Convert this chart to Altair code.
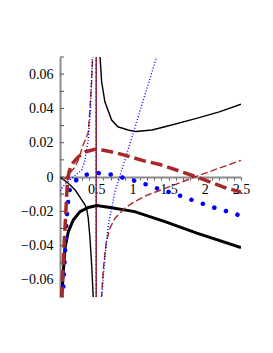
import altair as alt
import pandas as pd

# thin black solid
tb_l_x = [0, 0.11, 0.21, 0.30, 0.345, 0.37, 0.39, 0.414, 0.437, 0.46]
tb_l_y = [0, -0.0035, -0.0076, -0.0134, -0.0163, -0.019, -0.024, -0.0356, -0.051, -0.071]
tb_r_x = [0.552, 0.575, 0.62, 0.713, 0.80, 0.94, 1.05, 1.27, 1.45, 1.885, 2.2, 2.5]
tb_r_y = [0.071, 0.0556, 0.0439, 0.0332, 0.0293, 0.0274, 0.0265, 0.0274, 0.0293, 0.0342, 0.038, 0.0425]

# thick black solid
kb_x = [0.023, 0.046, 0.069, 0.115, 0.183, 0.276, 0.39, 0.51, 0.713, 1.03, 1.45, 1.89, 2.5]
kb_y = [-0.071, -0.0552, -0.0414, -0.0319, -0.0251, -0.0202, -0.0178, -0.0167, -0.0179, -0.0202, -0.026, -0.0327, -0.0412]

# thick red dashed
kr_x = [0.023, 0.05, 0.075, 0.09, 0.105, 0.125, 0.15, 0.18, 0.25, 0.345, 0.48, 0.62, 0.76, 0.94, 1.17, 1.38, 1.89, 2.25, 2.5]
kr_y = [-0.071, -0.045, -0.025, -0.012, -0.002, 0.003, 0.0058, 0.0082, 0.0117, 0.0146, 0.0162, 0.0155, 0.0142, 0.0122, 0.0093, 0.0073, 0.0, -0.0058, -0.0088]

# thin red dashed
tr_l_x = [0.046, 0.1, 0.138, 0.2, 0.253, 0.32, 0.39, 0.414, 0.435, 0.452]
tr_l_y = [-0.002, 0.0005, 0.0023, 0.0055, 0.0099, 0.0187, 0.026, 0.040, 0.055, 0.071]
tr_r_x = [0.572, 0.6, 0.64, 0.69, 0.76, 0.9, 1.03, 1.21, 1.43, 1.86, 2.2, 2.5]
tr_r_y = [-0.071, -0.053, -0.0377, -0.0298, -0.024, -0.018, -0.0144, -0.0105, -0.007, 0.0, 0.0052, 0.0097]

# thin blue dotted
tbl_l_x = [0.0, 0.07, 0.14, 0.21, 0.30, 0.345, 0.39, 0.42, 0.435, 0.448]
tbl_l_y = [-0.008, -0.004, -0.0015, 0.001, 0.004, 0.0099, 0.0216, 0.038, 0.055, 0.071]
tbl_r_x = [0.575, 0.62, 0.667, 0.713, 0.759, 0.804, 0.9, 1.01, 1.13, 1.24, 1.334]
tbl_r_y = [-0.071, -0.047, -0.028, -0.0183, -0.0086, -0.0027, 0.0105, 0.0255, 0.042, 0.057, 0.0702]

# thick blue dotted
kbl_x = [0.037, 0.046, 0.069, 0.092, 0.115, 0.138, 0.18, 0.23, 0.345, 0.48, 0.62, 0.73, 0.87, 0.99, 1.13, 1.26, 1.42, 1.63, 1.89, 2.16, 2.39, 2.5]
kbl_y = [-0.071, -0.064, -0.045, -0.024, -0.013, -0.0064, -0.0035, -0.0017, 0.0012, 0.0023, 0.0022, 0.0012, -0.0004, -0.0017, -0.0033, -0.0056, -0.0076, -0.0105, -0.0144, -0.0183, -0.021, -0.0228]

# vertical line x = 0.5
vx = [0.5, 0.5]
vy = [-0.07, 0.07]

x_ticks = [round(0.1 * i, 1) for i in range(1, 26)]
x_labels = [0.5, 1, 1.5, 2, 2.5]
y_labels = [-0.06, -0.04, -0.02, 0, 0.02, 0.04, 0.06]
y_minor = [round(-0.07 + 0.01 * i, 2) for i in range(15)]


def frame(branches):
    rows = []
    for b, (xs, ys) in enumerate(branches):
        for i, (a, c) in enumerate(zip(xs, ys)):
            rows.append({"x": a, "y": c, "b": b, "o": i})
    return pd.DataFrame(rows)


xs = alt.Scale(domain=[0, 2.5], nice=False)
ys = alt.Scale(domain=[-0.07, 0.07], nice=False)
FONT = "Liberation Serif"

xaxis = alt.Axis(values=x_ticks, labelExpr="indexof([0.5,1,1.5,2,2.5], datum.value) >= 0 ? datum.label : ''",
                 format="~g", offset=-120, domainColor="#8c8c8c", domainWidth=2, tickColor="#555",
                 tickSize=3, tickWidth=1, labelFont=FONT, labelFontSize=14, labelColor="black",
                 labelPadding=2, grid=False, title=None, labelFlush=False, labelOverlap=False)
yaxis = alt.Axis(values=y_labels, format="~g", domainColor="#8c8c8c", domainWidth=2, ticks=False,
                 labelFont=FONT, labelFontSize=14, labelColor="black", labelPadding=7, grid=False,
                 title=None, labelOverlap=False)


def line(df, color, width, dash=None, cap="butt"):
    kw = dict(color=color, strokeWidth=width, clip=True, strokeCap=cap)
    if dash:
        kw["strokeDash"] = dash
    return alt.Chart(df).mark_line(**kw).encode(
        x=alt.X("x:Q", scale=xs, axis=xaxis),
        y=alt.Y("y:Q", scale=ys, axis=yaxis),
        detail="b:N", order="o:Q")


RED = "#A82828"
layers = [
    line(frame([(vx, vy)]), RED, 1.6),
    line(frame([(vx, vy)]), "#2020c0", 1.3, [1, 3]),
    line(frame([(tb_l_x, tb_l_y), (tb_r_x, tb_r_y)]), "black", 1.4),
    line(frame([(kb_x, kb_y)]), "black", 3),
    line(frame([(tr_l_x, tr_l_y), (tr_r_x, tr_r_y)]), RED, 1.4, [7, 3]),
    line(frame([(tbl_l_x, tbl_l_y), (tbl_r_x, tbl_r_y)]), "#0000ff", 1.4, [1, 2]),
    line(frame([(kbl_x, kbl_y)]), "#0000ff", 4.5, [0.1, 12], "round"),
    line(frame([(kr_x, kr_y)]), RED, 3.5, [12, 5]),
    alt.Chart(pd.DataFrame({"y": y_minor})).mark_rule(color="#555", strokeWidth=1).encode(
        y=alt.Y("y:Q", scale=ys, axis=yaxis), x=alt.value(0), x2=alt.value(4)),
]

chart = alt.layer(*layers).properties(
    width=181, height=240,
    autosize=alt.AutoSizeParams(type="none"),
    padding={"left": 52, "top": 49, "right": 20, "bottom": 40},
).configure(
    background="white", font=FONT,
    view=alt.ViewConfig(stroke="transparent", strokeWidth=0),
    axis=alt.AxisConfig(labelFont=FONT, labelFontSize=14),
)

chart.save("out.html", embed_options={"renderer": "svg", "actions": False})
